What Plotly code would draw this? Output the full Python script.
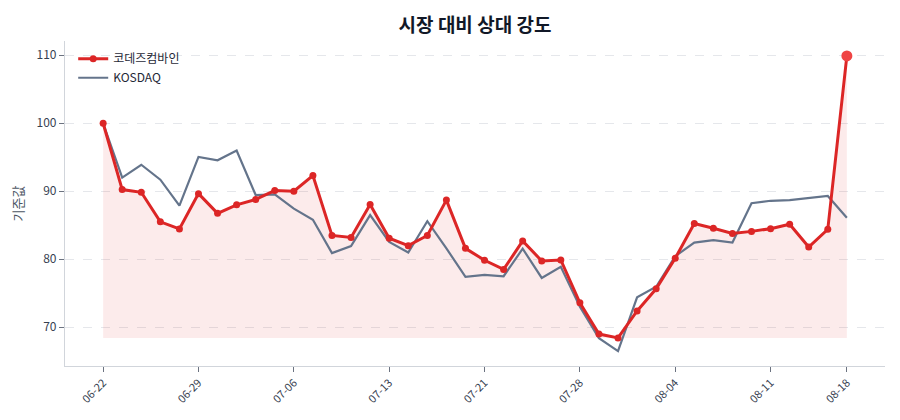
import plotly.graph_objects as go

dates = ["06-22","06-23","06-24","06-25","06-26",
         "06-29","06-30","07-01","07-02","07-03",
         "07-06","07-07","07-08","07-09","07-10",
         "07-13","07-14","07-15","07-16","07-17",
         "07-21","07-22","07-23","07-24","07-27",
         "07-28","07-29","07-30","07-31","08-03",
         "08-04","08-05","08-06","08-07","08-10",
         "08-11","08-12","08-13","08-14","08-18"]

stock = [100.0, 90.25, 89.85, 85.5, 84.45, 89.65, 86.75, 88.0, 88.8, 90.1,
         90.0, 92.3, 83.5, 83.2, 88.05, 83.1, 82.0, 83.5, 88.7, 81.6,
         79.85, 78.5, 82.7, 79.75, 79.9, 73.6, 69.0, 68.43, 72.4, 75.65,
         80.15, 85.25, 84.55, 83.8, 84.1, 84.5, 85.15, 81.8, 84.4, 109.9]

kosdaq = [100.0, 92.0, 93.9, 91.7, 87.9, 95.05, 94.55, 96.0, 89.45, 89.55,
          87.45, 85.8, 80.9, 81.95, 86.5, 82.55, 81.0, 85.6, 81.6, 77.4,
          77.7, 77.5, 81.55, 77.25, 78.9, 73.0, 68.4, 66.5, 74.4, 75.95,
          80.45, 82.45, 82.8, 82.45, 88.25, 88.6, 88.7, 88.95, 89.3, 86.1]

tick_labels = ["06-22","06-29","07-06","07-13","07-21","07-28","08-04","08-11","08-18"]

stock_name = "코데즈컴바인"
index_name = "KOSDAQ"

RED = "#dc2626"
SLATE = "#64748b"
FONT = "Noto Sans CJK KR"

x = list(range(len(dates)))
base = min(stock)
tickvals = [dates.index(t) for t in tick_labels]

fig = go.Figure()
fig.add_trace(go.Scatter(x=x, y=[base]*len(x), mode="lines", line=dict(width=0),
                         hoverinfo="skip", showlegend=False))
fig.add_trace(go.Scatter(x=x, y=stock, mode="lines", line=dict(width=0),
                         fill="tonexty", fillcolor="rgba(220,38,38,0.09)",
                         hoverinfo="skip", showlegend=False))
fig.add_trace(go.Scatter(x=x, y=kosdaq, mode="lines", name=index_name,
                         line=dict(color=SLATE, width=2.2)))
fig.add_trace(go.Scatter(x=x, y=stock, mode="lines+markers", name=stock_name,
                         line=dict(color=RED, width=3),
                         marker=dict(color=RED, size=7)))
fig.add_trace(go.Scatter(x=[x[-1]], y=[stock[-1]], mode="markers",
                         marker=dict(color="#ef4444", size=11),
                         showlegend=False, hoverinfo="skip"))

fig.update_layout(
    width=900, height=420,
    margin=dict(l=57, r=23, t=33, b=62),
    paper_bgcolor="white", plot_bgcolor="white",
    font=dict(family=FONT, size=12, color="#374151"),
    title=dict(text="<b>시장 대비 상대 강도</b>", x=0.5, xref="paper", xanchor="center",
               y=0.958, yref="container", yanchor="middle",
               font=dict(family=FONT, size=19, color="#111827")),
    legend=dict(x=0.01, y=0.99, xanchor="left", yanchor="top",
                bgcolor="rgba(255,255,255,0)", traceorder="reversed",
                font=dict(size=12, color="#1f2937")),
    showlegend=True,
)
fig.update_xaxes(
    range=[-2, 41], tickmode="array", tickvals=tickvals, ticktext=tick_labels,
    tickangle=-45, showgrid=False, showline=True, linecolor="#d1d5db",
    linewidth=1.2, ticks="outside", ticklen=5, tickcolor="#6b7280",
    tickfont=dict(size=11, color="#374151"), zeroline=False, automargin=False,
)
fig.update_yaxes(
    range=[64.3, 112.1], tickvals=[70, 80, 90, 100, 110],
    showgrid=True, gridcolor="#e5e7eb", griddash="dash", gridwidth=1,
    showline=True, linecolor="#d1d5db", linewidth=1.2,
    ticks="outside", ticklen=5, tickcolor="#6b7280",
    tickfont=dict(size=12, color="#374151"), zeroline=False, automargin=False,
    title=dict(text="기준값", font=dict(size=13, color="#4b5563"), standoff=9),
)

fig.write_html("out.html")
